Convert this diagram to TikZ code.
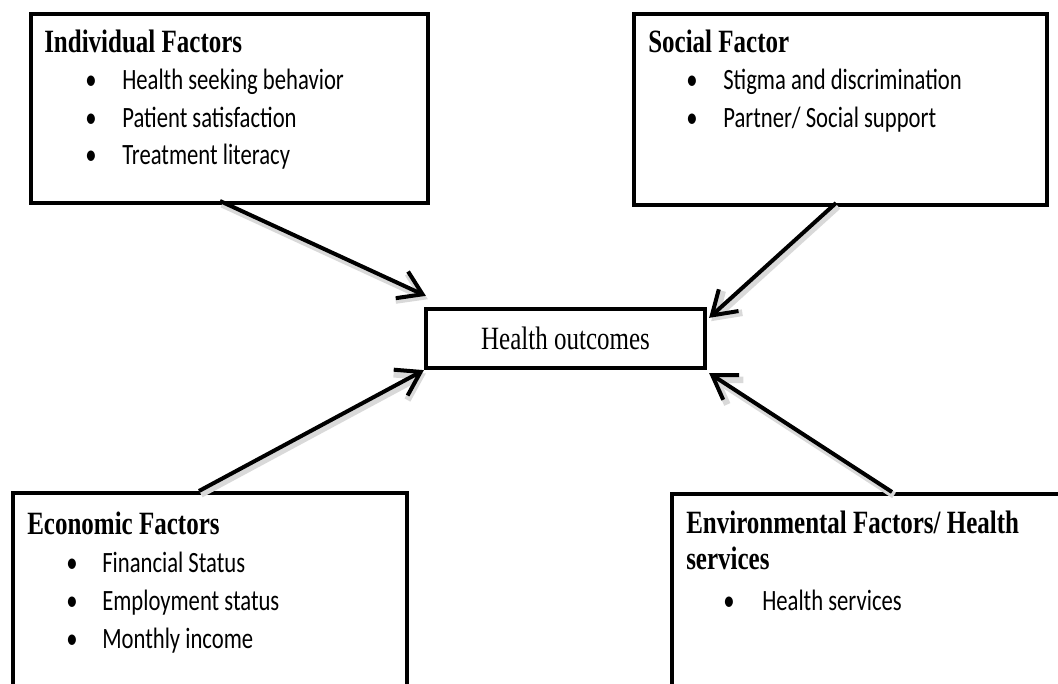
\documentclass[tikz,border=0pt]{standalone}
\usepackage{fontspec}
\setmainfont{Liberation Serif}
\newfontfamily\itemfont{Carlito}
\usetikzlibrary{arrows.meta,calc}
\newcommand{\tall}[1]{\scalebox{1}[1.3]{#1}}
\begin{document}
\begin{tikzpicture}[x=0.75pt,y=-0.75pt,line join=miter,>={Straight Barb[length=17pt,width=22pt]}]
	\tikzset{box/.style={draw,line width=3.2pt,anchor=north west,inner sep=0pt},
	head/.style={anchor=base west,inner sep=0pt,font=\fontsize{18.75}{22}\selectfont\bfseries},
	item/.style={anchor=base west,inner sep=0pt,font=\fontsize{17}{20}\selectfont\itemfont},
	con/.style={->,line width=3pt,preaction={draw=black!15,line width=5pt,transform canvas={shift={(1.5pt,-2.5pt)}}}}}
	\useasboundingbox(0,0)rectangle(1058,684);
	\clip(0,0)rectangle(1058,684);
	\node[box,minimum width=297.75pt,minimum height=141.75pt](ind)at(29,12){};
	\node[box,minimum width=309.75pt,minimum height=143.25pt](soc)at(632,12){};
	\node[box,minimum width=295.5pt,minimum height=171.75pt](eco)at(11,491){};
	\node[box,minimum width=307.5pt,minimum height=171pt](env)at(670,492){};
	\node[box,anchor=center,minimum width=209.25pt,minimum height=44.25pt,font=\fontsize{18.75}{22}\selectfont](out)at(565.5,338.5){\tall{Health outcomes}};
	\node[head](ind-h)at(44,53){\tall{Individual Factors}};
	\foreach \t [count=\i] in {Health seeking behavior,Patient satisfaction,Treatment literacy}{
	\node[item](ind-b\i)at(85,{52.5+37.5*\i}){\tall{\textbullet}};
	\node[item](ind-t\i)at(122,{52.5+37.5*\i}){\tall{\t}};}
	\node[head](soc-h)at(648,53){\tall{Social Factor}};
	\foreach \t [count=\i] in {Stigma and discrimination,Partner/ Social support}{
	\node[item](soc-b\i)at(686,{52+38*\i}){\tall{\textbullet}};
	\node[item](soc-t\i)at(723,{52+38*\i}){\tall{\t}};}
	\node[head](eco-h)at(27,535){\tall{Economic Factors}};
	\foreach \t [count=\i] in {Financial Status,Employment status,Monthly income}{
	\node[item](eco-b\i)at(66,{534+38*\i}){\tall{\textbullet}};
	\node[item](eco-t\i)at(102,{534+38*\i}){\tall{\t}};}
	\node[head](env-h)at(686,534){\tall{Environmental Factors/ Health}};
	\node[head](env-h2)at(686,570){\tall{services}};
	\node[item](env-b1)at(723,610){\tall{\textbullet}};
	\node[item](env-t1)at(762,610){\tall{Health services}};
	\coordinate(ind-a)at(220,201);
	\coordinate(soc-a)at(836,203);
	\coordinate(eco-a)at(199,491);
	\coordinate(env-a)at(892,492);
	\draw[con](ind-a)--($(out.north west)+(2,-11)$);
	\draw[con](soc-a)--($(out.north east)+(2,11)$);
	\draw[con](eco-a)--(out.south west);
	\draw[con](env-a)--($(out.south east)+(2,3)$);
\end{tikzpicture}
\end{document}
